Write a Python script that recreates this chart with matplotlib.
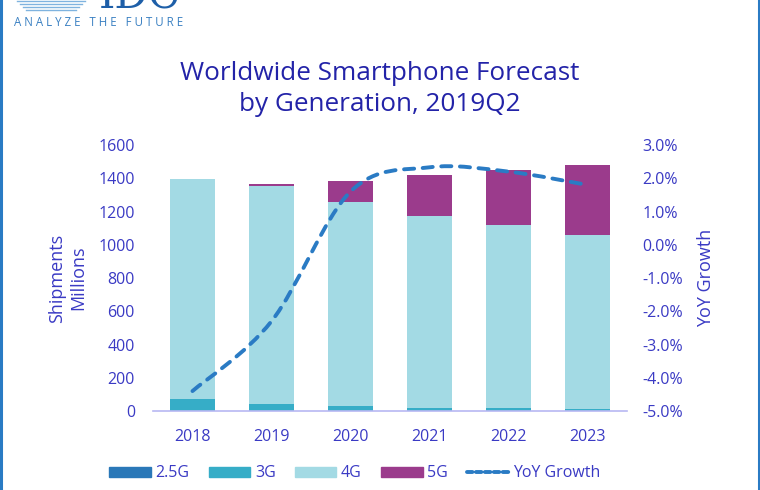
import matplotlib
matplotlib.use('Agg')
import matplotlib.pyplot as plt
import numpy as np
from matplotlib.path import Path
from matplotlib.patches import PathPatch, Patch
from matplotlib.lines import Line2D

plt.rcParams['font.family'] = ['Open Sans', 'DejaVu Sans']

years = ['2018', '2019', '2020', '2021', '2022', '2023']
g25 = [2, 1, 0.5, 0.3, 0.2, 0.1]
g3 = [68, 41, 30, 20, 20, 14]
g4 = [1325, 1311, 1229, 1153, 1099, 1045]
g5 = [0, 11, 126, 245, 331, 419]
yoy = [-4.4, -2.3, 1.6, 2.33, 2.2, 1.8]

txt = '#3a3ac4'
c25, c3, c4, c5 = '#2a78b8', '#36adc7', '#a3dae4', '#9b3b8c'
cline = '#2a7bc4'

fig = plt.figure(figsize=(7.6, 4.9), dpi=100)
ax = fig.add_axes([0.2013, 0.1612, 0.6237, 0.5428])

x = np.arange(len(years))
w = 0.57
b = np.zeros(len(years))
for vals, col in [(g25, c25), (g3, c3), (g4, c4), (g5, c5)]:
    ax.bar(x, vals, w, bottom=b, color=col, zorder=2)
    b += np.array(vals)

ax.set_xlim(-0.5, 5.5)
ax.set_ylim(0, 1600)
ax.set_yticks(range(0, 1601, 200))
ax.set_xticks(x)
ax.set_xticklabels(years)
for s in ['top', 'left', 'right']:
    ax.spines[s].set_visible(False)
ax.spines['bottom'].set_color('#b8b8f2')
ax.spines['bottom'].set_linewidth(1.2)
ax.tick_params(axis='both', length=0, labelsize=11.5, colors=txt)
ax.tick_params(axis='y', pad=13)
ax.tick_params(axis='x', pad=13)
ax.set_ylabel('Shipments\nMillions', color=txt, fontsize=13, labelpad=8)

ax2 = ax.twinx()
ax2.set_ylim(-5, 3)
ax2.set_yticks(range(-5, 4))
ax2.set_yticklabels([f'{v:.1f}%' for v in range(-5, 4)])
for s in ax2.spines.values():
    s.set_visible(False)
ax2.tick_params(axis='y', length=0, labelsize=11.5, colors=txt, pad=11)
ax2.set_ylabel('YoY Growth', color=txt, fontsize=13, labelpad=10)

# smoothed line (catmull-rom -> bezier)
pts = np.column_stack([x, yoy]).astype(float)
verts = [pts[0]]
codes = [Path.MOVETO]
n = len(pts)
for i in range(n - 1):
    p0 = pts[max(i - 1, 0)]
    p1 = pts[i]
    p2 = pts[i + 1]
    p3 = pts[min(i + 2, n - 1)]
    verts += [p1 + (p2 - p0) / 6, p2 - (p3 - p1) / 6, p2]
    codes += [Path.CURVE4] * 3
ax2.add_patch(PathPatch(Path(verts, codes), fill=False, ec=cline, lw=2.8,
                        linestyle=(0, (2.6, 2.2)), capstyle='round', zorder=3))

fig.text(0.5, 0.818, 'Worldwide Smartphone Forecast\nby Generation, 2019Q2',
         ha='center', va='center', fontsize=18.8, color='#2323a8', linespacing=1.3)

handles = [Patch(color=c25), Patch(color=c3), Patch(color=c4), Patch(color=c5),
           Line2D([], [], color=cline, lw=2.8, linestyle=(0, (1.4, 0.9)),
                  dash_capstyle='round')]
labels = ['2.5G', '3G', '4G', '5G', 'YoY Growth']
leg = fig.legend(handles, labels, loc='center', bbox_to_anchor=(0.467, 0.034), ncol=5,
                 frameon=False, fontsize=11.5, handlelength=2.6, handleheight=0.6,
                 handletextpad=0.3, columnspacing=1.2)
for t in leg.get_texts():
    t.set_color(txt)

# logo remnants and frame
fig.text(0.019, 0.955, 'A N A L Y Z E   T H E   F U T U R E', fontsize=8.3,
         color='#3a80c2', va='center')
fig.text(0.183, 0.983, 'IDC', fontsize=30, color='#1e5fa8', ha='center', va='baseline',
         family='DejaVu Serif')
for k in range(4):
    fig.add_artist(Line2D([0.022 + k * 0.004, 0.112 - k * 0.004], [0.998 - k * 0.006] * 2,
                          color='#7fb3df', lw=1.0))
for xe in (0.0015, 0.9985):
    fig.add_artist(Line2D([xe, xe], [0, 1], color='#2a7bc4', lw=2.2))

fig.savefig('out.png', dpi=100)
